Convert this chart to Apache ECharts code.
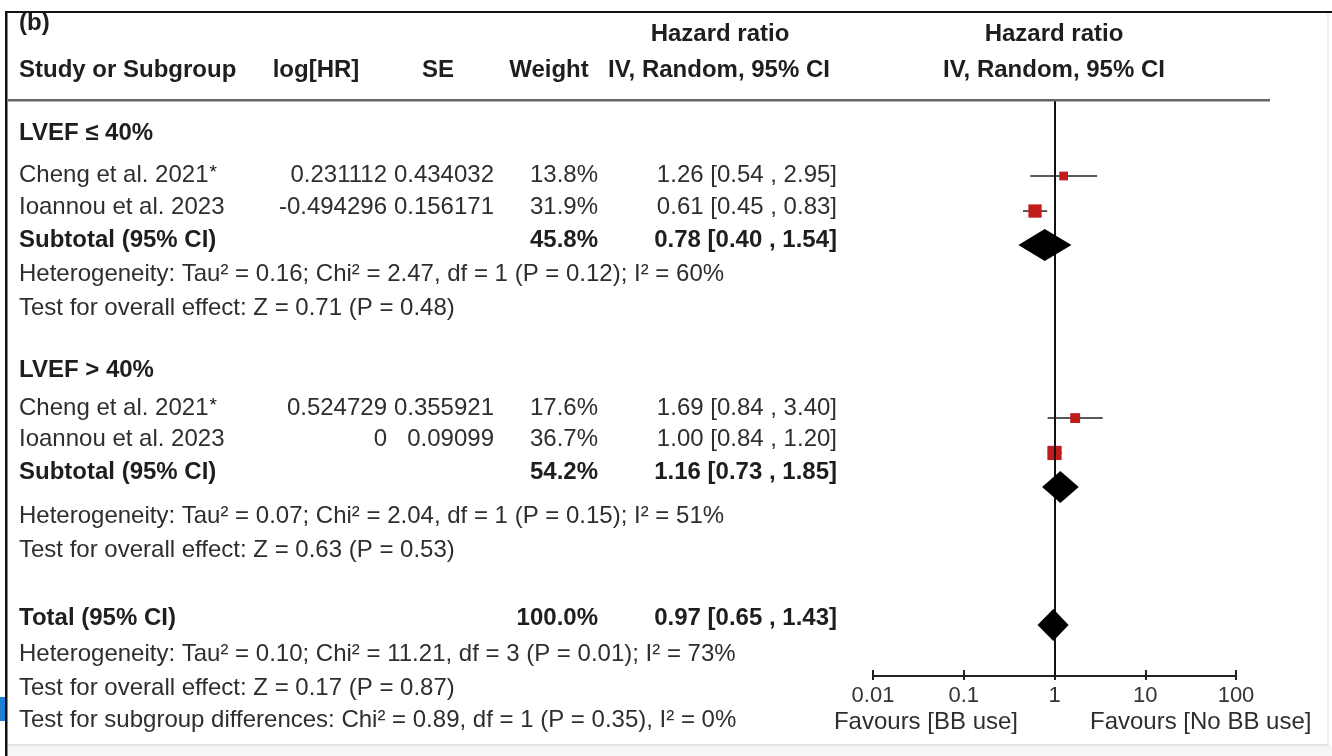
<!DOCTYPE html>
<html>
<head>
<meta charset="utf-8">
<script src="https://cdn.jsdelivr.net/npm/echarts@6/dist/echarts.min.js"></script>
<style>
html,body{margin:0;padding:0;background:#fff;}
#chart{width:1332px;height:756px;}
</style>
</head>
<body>
<div id="chart"></div>
<script>
// ---------- data ----------
const studyNames = ['Cheng et al. 2021', 'Ioannou et al. 2023', 'Cheng et al. 2021', 'Ioannou et al. 2023'];
const studyStar = [true, false, true, false];
const logHR = ['0.231112', '-0.494296', '0.524729', '0'];
const seVals = ['0.434032', '0.156171', '0.355921', '0.09099'];
const studyWeight = [13.8, 31.9, 17.6, 36.7];
const studyHR = [1.26, 0.61, 1.69, 1.00];
const studyLo = [0.54, 0.45, 0.84, 0.84];
const studyHi = [2.95, 0.83, 3.40, 1.20];
const studyRow = [2.375, 3.47, 9.94, 11.03];   // plot row position (row units)

const pooledNames = ['Subtotal (95% CI)', 'Subtotal (95% CI)', 'Total (95% CI)'];
const pooledWeight = [45.8, 54.2, 100.0];
const pooledHR = [0.78, 1.16, 0.97];
const pooledLo = [0.40, 0.73, 0.65];
const pooledHi = [1.54, 1.85, 1.43];
const pooledRow = [4.53, 12.09, 16.41];

const groupNames = ['LVEF ≤ 40%', 'LVEF > 40%'];
const statLines = [
  'Heterogeneity: Tau² = 0.16; Chi² = 2.47, df = 1 (P = 0.12); I² = 60%',
  'Test for overall effect: Z = 0.71 (P = 0.48)',
  'Heterogeneity: Tau² = 0.07; Chi² = 2.04, df = 1 (P = 0.15); I² = 51%',
  'Test for overall effect: Z = 0.63 (P = 0.53)',
  'Heterogeneity: Tau² = 0.10; Chi² = 11.21, df = 3 (P = 0.01); I² = 73%',
  'Test for overall effect: Z = 0.17 (P = 0.87)',
  'Test for subgroup differences: Chi² = 0.89, df = 1 (P = 0.35), I² = 0%'
];
const tickLabels = ['0.01', '0.1', '1', '10', '100'];
const favourLeft = 'Favours [BB use]';
const favourRight = 'Favours [No BB use]';

// ---------- layout ----------
const FONT = '"Liberation Sans", Arial, Helvetica, sans-serif';
const FS = 24;
const TXT = '#2e2e2e';
const BTXT = '#1e1e1e';
const RED = '#c01c1c';

const fmt2 = v => v.toFixed(2);
const ciText = (h, l, u) => fmt2(h) + ' [' + fmt2(l) + ' , ' + fmt2(u) + ']';

const g = [];
function txt(s, x, y, align, bold) {
  g.push({
    type: 'text', x: x, y: y, z: 10,
    style: {
      text: s, fill: bold ? BTXT : TXT,
      font: (bold ? 'bold ' : '') + FS + 'px ' + FONT,
      textAlign: align, textVerticalAlign: 'middle'
    }
  });
}
// column anchors
const X_STUDY = 19, X_LOG = 387, X_SE = 494, X_W = 598, X_CI = 837;

// header
txt('(b)', 19, 23, 'left', true);
txt('Hazard ratio', 720, 34, 'center', true);
txt('Study or Subgroup', X_STUDY, 70, 'left', true);
txt('log[HR]', 316, 70, 'center', true);
txt('SE', 438, 70, 'center', true);
txt('Weight', 549, 70, 'center', true);
txt('IV, Random, 95% CI', 719, 70, 'center', true);
txt('Hazard ratio', 1054, 34, 'center', true);
txt('IV, Random, 95% CI', 1054, 70, 'center', true);

// row text positions (pixels)
const groupY = [133, 370];
const studyY = [175, 207, 408, 439];
const pooledY = [240, 472, 618];
const statY = [274, 308, 516, 550, 654, 688, 720];

groupNames.forEach((n, i) => txt(n, X_STUDY, groupY[i], 'left', true));
studyNames.forEach((n, i) => {
  g.push({
    type: 'text', x: X_STUDY, y: studyY[i], z: 10,
    style: {
      text: studyStar[i] ? '{a|' + n + '}{s|*}' : '{a|' + n + '}',
      textAlign: 'left', textVerticalAlign: 'middle',
      rich: {
        a: { fontSize: FS, fontFamily: FONT, fill: TXT, color: TXT },
        s: { fontSize: 19, fontFamily: FONT, fill: '#111', color: '#111', verticalAlign: 'top', padding: [0, 0, 4, 1] }
      }
    }
  });
  txt(logHR[i], X_LOG, studyY[i], 'right', false);
  txt(seVals[i], X_SE, studyY[i], 'right', false);
  txt(studyWeight[i].toFixed(1) + '%', X_W, studyY[i], 'right', false);
  txt(ciText(studyHR[i], studyLo[i], studyHi[i]), X_CI, studyY[i], 'right', false);
});
pooledNames.forEach((n, i) => {
  txt(n, X_STUDY, pooledY[i], 'left', true);
  txt(pooledWeight[i].toFixed(1) + '%', X_W, pooledY[i], 'right', true);
  txt(ciText(pooledHR[i], pooledLo[i], pooledHi[i]), X_CI, pooledY[i], 'right', true);
});
statLines.forEach((s, i) => txt(s, X_STUDY, statY[i], 'left', false));

txt(favourLeft, 1018, 722, 'right', false);
txt(favourRight, 1090, 722, 'left', false);

// frame pieces
g.push({ type: 'rect', z: 20, shape: { x: 0, y: 0, width: 1332, height: 11 }, style: { fill: '#fff' } });
g.push({ type: 'rect', z: 21, shape: { x: 6, y: 11, width: 1326, height: 2 }, style: { fill: '#111' } });
g.push({ type: 'rect', z: 21, shape: { x: 5, y: 11, width: 2.5, height: 745 }, style: { fill: '#111' } });
g.push({ type: 'rect', z: 21, shape: { x: 8, y: 99, width: 1262, height: 2.5 }, style: { fill: '#666' } });
g.push({ type: 'rect', z: 1, shape: { x: 8, y: 746, width: 1324, height: 10 }, style: { fill: '#f6f6f6' } });
g.push({ type: 'rect', z: 2, shape: { x: 8, y: 744, width: 1320, height: 2 }, style: { fill: '#e2e2e2' } });
g.push({ type: 'rect', z: 2, shape: { x: 1327, y: 13, width: 2, height: 733 }, style: { fill: '#ececec' } });
g.push({ type: 'rect', z: 21, shape: { x: 0, y: 697, width: 5, height: 24 }, style: { fill: '#1f7fd4' } });

// ---------- chart ----------
const chart = echarts.init(document.getElementById('chart'), null, { renderer: 'canvas' });

const whiskerData = studyHR.map((h, i) => [h, studyLo[i], studyHi[i], studyRow[i]]);
const squareData = studyHR.map((h, i) => [h, studyRow[i], studyWeight[i]]);
const diamondData = pooledHR.map((h, i) => [h, pooledLo[i], pooledHi[i], pooledRow[i]]);

const gridBox = { left: 873, right: 96, top: 100, bottom: 80, containLabel: false };
const axisCommon = {
  type: 'log', logBase: 10, min: 0.01, max: 100, position: 'bottom',
  splitLine: { show: false }, minorTick: { show: false }
};

chart.setOption({
  animation: false,
  backgroundColor: '#fff',
  grid: [Object.assign({}, gridBox), Object.assign({}, gridBox)],
  xAxis: [
    Object.assign({}, axisCommon, {
      gridIndex: 0,
      axisLine: { show: true, onZero: false, lineStyle: { color: '#222', width: 2 } },
      axisTick: { show: true, inside: true, length: 6, lineStyle: { color: '#222', width: 2 } },
      axisLabel: {
        show: true, margin: 9, color: '#333', fontSize: 22, fontFamily: FONT,
        formatter: v => {
          const k = Math.round(Math.log10(v)) + 2;
          return tickLabels[k] !== undefined ? tickLabels[k] : '';
        }
      }
    }),
    Object.assign({}, axisCommon, {
      gridIndex: 1,
      axisLine: { show: false, onZero: false },
      axisTick: { show: true, inside: false, length: 4, lineStyle: { color: '#222', width: 2 } },
      axisLabel: { show: false }
    })
  ],
  yAxis: [
    { gridIndex: 0, type: 'value', min: 0, max: 18, inverse: true, show: false },
    { gridIndex: 1, type: 'value', min: 0, max: 18, inverse: true, show: false }
  ],
  graphic: g,
  series: [
    {
      type: 'custom', name: 'whisker', xAxisIndex: 0, yAxisIndex: 0, clip: false,
      data: whiskerData,
      encode: { x: [0, 1, 2], y: 3 },
      renderItem: (params, api) => {
        const a = api.coord([api.value(1), api.value(3)]);
        const b = api.coord([api.value(2), api.value(3)]);
        return { type: 'line', shape: { x1: a[0], y1: a[1], x2: b[0], y2: b[1] }, style: { stroke: '#222', lineWidth: 1.5 } };
      },
      markLine: {
        silent: true, symbol: ['none', 'none'], label: { show: false },
        lineStyle: { color: '#111', width: 2, type: 'solid' },
        data: [{ xAxis: 1 }]
      },
      z: 3
    },
    {
      type: 'scatter', name: 'study', xAxisIndex: 0, yAxisIndex: 0,
      data: squareData,
      symbol: 'rect',
      symbolSize: v => 2.35 * Math.sqrt(v[2]),
      itemStyle: { color: RED, opacity: 1 },
      z: 4
    },
    {
      type: 'custom', name: 'pooled', xAxisIndex: 0, yAxisIndex: 0, clip: false,
      data: diamondData,
      encode: { x: [0, 1, 2], y: 3 },
      renderItem: (params, api) => {
        const c = api.coord([api.value(0), api.value(3)]);
        const l = api.coord([api.value(1), api.value(3)]);
        const r = api.coord([api.value(2), api.value(3)]);
        const h = 16;
        return {
          type: 'polygon',
          shape: { points: [[l[0], c[1]], [c[0], c[1] - h], [r[0], c[1]], [c[0], c[1] + h]] },
          style: { fill: '#000' }
        };
      },
      z: 5
    }
  ]
});
</script>
</body>
</html>
